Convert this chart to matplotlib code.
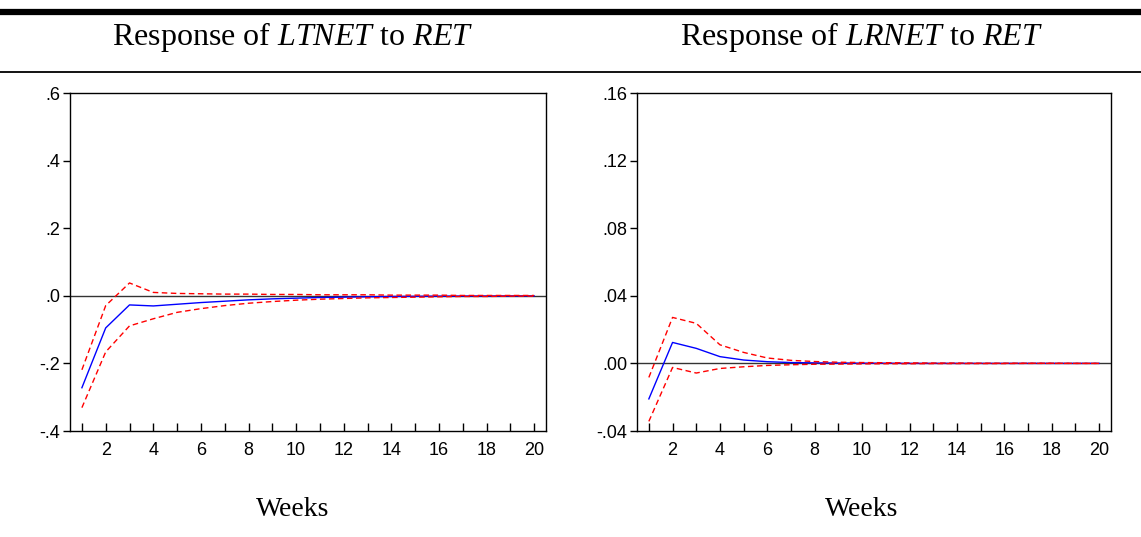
import numpy as np
import matplotlib.pyplot as plt
from matplotlib.lines import Line2D

plt.rcParams['font.family'] = ['Liberation Sans', 'DejaVu Sans']
plt.rcParams['mathtext.fontset'] = 'custom'
plt.rcParams['mathtext.it'] = 'Liberation Serif:italic'
plt.rcParams['mathtext.rm'] = 'Liberation Serif'

# periods
weeks = np.arange(1, 21)

# Response of LTNET to RET
lt_resp = [-0.272, -0.095, -0.027, -0.030, -0.025, -0.020, -0.016, -0.012, -0.009, -0.007,
           -0.005, -0.004, -0.003, -0.002, -0.0015, -0.001, -0.0008, -0.0006, -0.0004, -0.0003]
lt_upper = [-0.219, -0.029, 0.038, 0.010, 0.007, 0.006, 0.005, 0.005, 0.004, 0.004,
            0.003, 0.003, 0.003, 0.002, 0.002, 0.002, 0.001, 0.001, 0.001, 0.001]
lt_lower = [-0.331, -0.166, -0.089, -0.068, -0.049, -0.038, -0.029, -0.022, -0.017, -0.013,
            -0.010, -0.008, -0.006, -0.005, -0.004, -0.003, -0.002, -0.002, -0.001, -0.001]

# Response of LRNET to RET
lr_resp = [-0.021, 0.0124, 0.0089, 0.0040, 0.0020, 0.0010, 0.0005, 0.0003, 0.0002, 0.0001,
           0.0001, 0.0, 0.0, 0.0, 0.0, 0.0, 0.0, 0.0, 0.0, 0.0]
lr_upper = [-0.0083, 0.0272, 0.0237, 0.0110, 0.0065, 0.0032, 0.0018, 0.0011, 0.0007, 0.0005,
            0.0004, 0.0003, 0.0002, 0.0002, 0.0001, 0.0001, 0.0001, 0.0001, 0.0, 0.0]
lr_lower = [-0.0343, -0.0024, -0.0057, -0.0030, -0.0020, -0.0012, -0.0008, -0.0005, -0.0004, -0.0003,
            -0.0002, -0.0002, -0.0001, -0.0001, -0.0001, -0.0001, 0.0, 0.0, 0.0, 0.0]

panels = [
    ('LTNET', lt_resp, lt_upper, lt_lower, (-0.4, 0.6), [-0.4, -0.2, 0.0, 0.2, 0.4, 0.6],
     ['-.4', '-.2', '.0', '.2', '.4', '.6']),
    ('LRNET', lr_resp, lr_upper, lr_lower, (-0.04, 0.16), [-0.04, 0.0, 0.04, 0.08, 0.12, 0.16],
     ['-.04', '.00', '.04', '.08', '.12', '.16']),
]

W, H = 1141, 537
fig = plt.figure(figsize=(W / 100, H / 100), dpi=100)

# thick top rule and thin rule under titles
fig.add_artist(Line2D([0.0, 1.0], [1 - 12 / H, 1 - 12 / H], color='black', lw=4.5))
fig.add_artist(Line2D([0.0, 1.0], [1 - 72 / H, 1 - 72 / H], color='black', lw=1.3))

boxes = [(70, 546), (637, 1111)]
top, bottom = 93, 431
title_x = [293, 862]
for (name, resp, up, lo, ylim, yt, ytl), (x0, x1), tx in zip(panels, boxes, title_x):
    ax = fig.add_axes([x0 / W, 1 - bottom / H, (x1 - x0) / W, (bottom - top) / H])
    ax.axhline(0, color='#333333', lw=1.0)
    ax.plot(weeks, resp, color='blue', lw=1.0)
    ax.plot(weeks, up, color='red', lw=1.0, ls=(0, (4, 2.5)))
    ax.plot(weeks, lo, color='red', lw=1.0, ls=(0, (4, 2.5)))
    ax.set_xlim(0.5, 20.5)
    ax.set_ylim(*ylim)
    ax.set_xticks(weeks)
    ax.set_xticklabels([str(w) if w % 2 == 0 else '' for w in weeks])
    ax.set_yticks(yt)
    ax.set_yticklabels(ytl)
    ax.tick_params(axis='x', direction='in', length=6, width=1, labelsize=13, pad=8)
    ax.tick_params(axis='y', direction='out', length=5, width=1, labelsize=13, pad=2)
    for s in ax.spines.values():
        s.set_linewidth(1.0)
    fig.text(tx / W, 1 - 37 / H, 'Response of $\\it{' + name + '}$ to $\\it{RET}$',
             ha='center', va='center', fontsize=23, family='Liberation Serif')
    fig.text(tx / W, 1 - 510 / H, 'Weeks', ha='center', va='center', fontsize=20,
             family='Liberation Serif')

fig.savefig('out.png', dpi=100)
